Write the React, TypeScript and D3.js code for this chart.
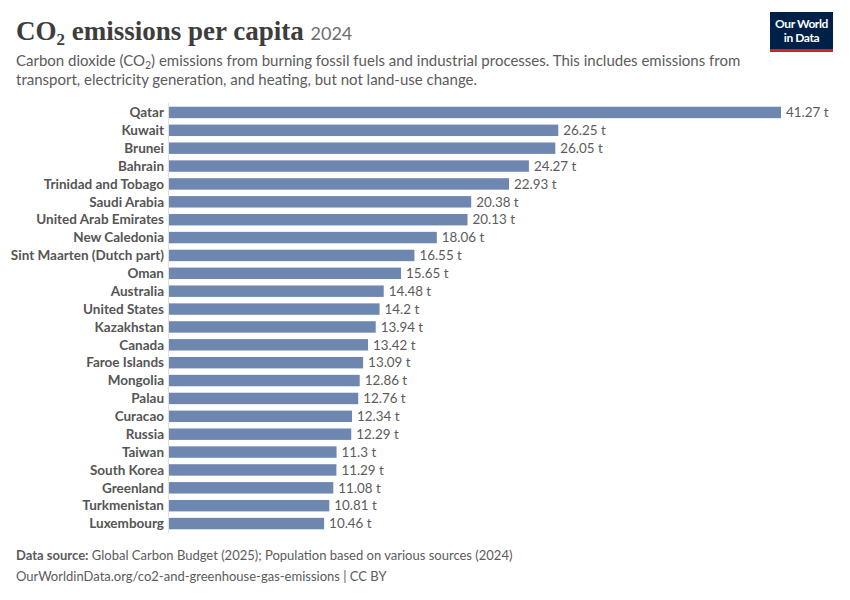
import React from "react";
import * as d3 from "d3";

const countries = [
  "Qatar", "Kuwait", "Brunei", "Bahrain", "Trinidad and Tobago", "Saudi Arabia",
  "United Arab Emirates", "New Caledonia", "Sint Maarten (Dutch part)", "Oman",
  "Australia", "United States", "Kazakhstan", "Canada", "Faroe Islands", "Mongolia",
  "Palau", "Curacao", "Russia", "Taiwan", "South Korea", "Greenland", "Turkmenistan",
  "Luxembourg",
];
const values = [
  41.27, 26.25, 26.05, 24.27, 22.93, 20.38, 20.13, 18.06, 16.55, 15.65, 14.48, 14.2,
  13.94, 13.42, 13.09, 12.86, 12.76, 12.34, 12.29, 11.3, 11.29, 11.08, 10.81, 10.46,
];
const valueLabels = [
  "41.27 t", "26.25 t", "26.05 t", "24.27 t", "22.93 t", "20.38 t", "20.13 t", "18.06 t",
  "16.55 t", "15.65 t", "14.48 t", "14.2 t", "13.94 t", "13.42 t", "13.09 t", "12.86 t",
  "12.76 t", "12.34 t", "12.29 t", "11.3 t", "11.29 t", "11.08 t", "10.81 t", "10.46 t",
];

const W = 850;
const H = 600;
const sans = "Lato, 'Noto Sans', sans-serif";
const serif = "'Liberation Serif', 'DejaVu Serif', serif";

export default function App() {
  const x = d3.scaleLinear().domain([0, 41.27]).range([169, 781]);
  const y = d3
    .scaleBand<string>()
    .domain(countries)
    .range([103.5, 532.5])
    .paddingInner(0.36)
    .paddingOuter(0.18);
  const bw = y.bandwidth();

  return (
    <svg
      width={W}
      height={H}
      viewBox={`0 0 ${W} ${H}`}
      style={{ position: "absolute", left: 0, top: 0, background: "#fff" }}
    >
      <rect x={0} y={0} width={W} height={H} fill="#fff" />
      {/* Title */}
      <text x={16} y={40} fontFamily={serif} fontSize={27} fill="#3d3d3d" fontWeight={700}>
        CO
        <tspan fontSize={17} dy={5}>2</tspan>
        <tspan dy={-5}> emissions per capita </tspan>
        <tspan fontFamily={sans} fontWeight={400} fontSize={18} fill="#6e6e6e">2024</tspan>
      </text>
      {/* Subtitle */}
      <text x={16} y={66} fontFamily={sans} fontSize={15} fill="#5b5b5b">
        Carbon dioxide (CO
        <tspan fontSize={10.5} dy={3}>2</tspan>
        <tspan dy={-3}>) emissions from burning fossil fuels and industrial processes. This includes emissions from</tspan>
      </text>
      <text x={16} y={85} fontFamily={sans} fontSize={15} fill="#5b5b5b">
        transport, electricity generation, and heating, but not land-use change.
      </text>
      {/* Logo */}
      <rect x={770} y={12} width={63} height={37} fill="#002147" />
      <rect x={770} y={49} width={63} height={3} fill="#ce261e" />
      <text x={801.5} y={28} textAnchor="middle" fontFamily={sans} fontSize={12} fill="#fff" fontWeight={700} letterSpacing={-0.4}>
        Our World
      </text>
      <text x={801.5} y={42} textAnchor="middle" fontFamily={sans} fontSize={12} fill="#fff" fontWeight={700} letterSpacing={-0.4}>
        in Data
      </text>

      {/* Axis line */}
      <line x1={168.5} x2={168.5} y1={103} y2={533} stroke="#e0e0e0" strokeWidth={1} />

      {countries.map((c, i) => {
        const yy = y(c) as number;
        return (
          <g key={c}>
            <rect x={x(0)} y={yy} width={x(values[i]) - x(0)} height={bw} fill="#6e87b0" />
            <text
              x={164}
              y={yy + bw / 2}
              dy="0.35em"
              textAnchor="end"
              fontFamily={sans}
              fontSize={13.5}
              fontWeight={700}
              fill="#555"
            >
              {c}
            </text>
            <text
              x={x(values[i]) + 5}
              y={yy + bw / 2}
              dy="0.35em"
              fontFamily={sans}
              fontSize={13.4}
              fill="#5b5b5b"
            >
              {valueLabels[i]}
            </text>
          </g>
        );
      })}

      {/* Footer */}
      <text x={16} y={560} fontFamily={sans} fontSize={13} fill="#5b5b5b">
        <tspan fontWeight={700}>Data source:</tspan> Global Carbon Budget (2025); Population based on various sources (2024)
      </text>
      <text x={16} y={581} fontFamily={sans} fontSize={13} fill="#5b5b5b">
        OurWorldinData.org/co2-and-greenhouse-gas-emissions | CC BY
      </text>
    </svg>
  );
}
